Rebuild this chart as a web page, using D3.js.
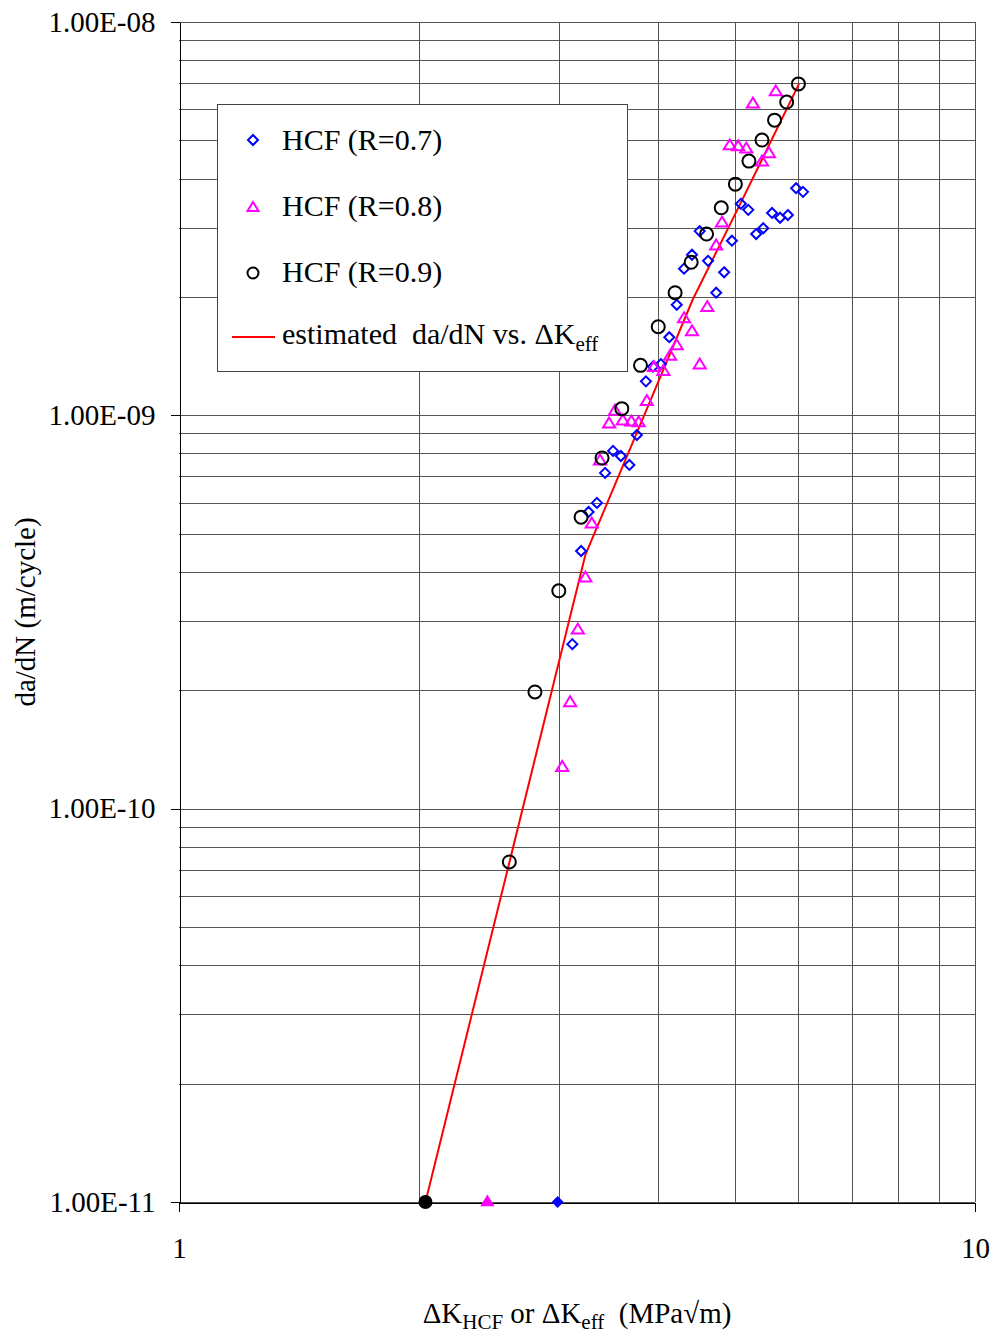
<!DOCTYPE html>
<html>

<head>
    <style>
        body { margin: 0; background: white; }
        text { font-family: "Liberation Serif", "Times New Roman", serif; fill: black; }
        .grid line { stroke: #555; stroke-width: 1; shape-rendering: crispEdges; }
        .axis path, .axis line { stroke: black; shape-rendering: crispEdges; }
    </style>
</head>

<body>
    <svg id="container" width="999" height="1336">
        <g id="body"></g>
    </svg>
</body>
<script src="https://d3js.org/d3.v7.min.js"></script>

<script>
    // HCF R=0.7
    const dk07 = [3.12, 3.20, 3.27, 3.35, 3.43, 3.51, 3.59, 3.68, 3.76, 3.86, 3.94, 4.03, 4.13, 4.22, 4.31,
        4.41, 4.51, 4.62, 4.73, 4.84, 4.95, 5.08, 5.19, 5.31, 5.42, 5.56, 5.69, 5.82, 5.96, 6.08];
    const rate07 = [2.62e-10, 4.52e-10, 5.68e-10, 5.99e-10, 7.14e-10, 8.12e-10, 7.88e-10, 7.48e-10, 8.91e-10, 1.22e-9,
        1.33e-9, 1.35e-9, 1.58e-9, 1.91e-9, 2.36e-9, 2.56e-9, 2.94e-9, 2.47e-9, 2.05e-9, 2.31e-9,
        2.78e-9, 3.45e-9, 3.33e-9, 2.89e-9, 2.99e-9, 3.27e-9, 3.18e-9, 3.23e-9, 3.78e-9, 3.70e-9];

    // HCF R=0.8
    const dk08 = [3.03, 3.10, 3.17, 3.24, 3.30, 3.38, 3.47, 3.53, 3.61, 3.70, 3.78, 3.87, 3.95, 4.06, 4.14,
        4.22, 4.31, 4.41, 4.51, 4.61, 4.73, 4.81, 4.92, 5.04, 5.16, 5.26, 5.40, 5.51, 5.62];
    const rate08 = [1.28e-10, 1.87e-10, 2.86e-10, 3.88e-10, 5.32e-10, 7.70e-10, 9.56e-10, 1.03e-9, 9.73e-10, 9.67e-10,
        9.62e-10, 1.09e-9, 1.33e-9, 1.30e-9, 1.42e-9, 1.51e-9, 1.77e-9, 1.64e-9, 1.35e-9, 1.89e-9,
        2.71e-9, 3.10e-9, 4.87e-9, 4.84e-9, 4.78e-9, 6.22e-9, 4.43e-9, 4.65e-9, 6.68e-9];

    // HCF R=0.9
    const dk09 = [2.6, 2.8, 3.0, 3.2, 3.4, 3.6, 3.8, 4.0, 4.2, 4.4, 4.6, 4.8, 5.0, 5.2, 5.4, 5.6, 5.8, 6.0];
    const rate09 = [7.32e-11, 1.98e-10, 3.58e-10, 5.51e-10, 7.79e-10, 1.04e-9, 1.34e-9, 1.68e-9, 2.05e-9, 2.45e-9,
        2.89e-9, 3.37e-9, 3.87e-9, 4.43e-9, 5.01e-9, 5.63e-9, 6.26e-9, 6.96e-9];

    // threshold points on the bottom axis (R=0.9, 0.8, 0.7)
    const thresholdDK = [2.04, 2.44, 2.99];
    const thresholdRate = 1e-11;

    // estimated da/dN vs dK_eff
    const fitDK = [2.04, 3.24, 3.91, 4.42, 5.10, 6.01];
    const fitRate = [1e-11, 4.42e-10, 1.09e-9, 1.97e-9, 3.53e-9, 6.96e-9];

    const yTicks = [1e-8, 1e-9, 1e-10, 1e-11];
    const xTicks = [1, 10];

    const serif = "'Liberation Serif', 'Times New Roman', serif";
    const body = d3.select("#body");
    const plotLeft = 179, plotRight = 975, plotTop = 22, plotBottom = 1202;

    const x = d3.scaleLog().domain([1, 10]).range([plotLeft, plotRight]);
    const y = d3.scaleLog().domain([1e-11, 1e-8]).range([plotBottom, plotTop]);

    // grid
    let xGrid = [];
    for (let m = 2; m <= 10; m++) xGrid.push(m);
    let yGrid = [];
    for (let e = -11; e <= -9; e++) for (let m = 1; m <= 10; m++) yGrid.push(m * Math.pow(10, e));

    let grid = body.append("g").attr("class", "grid");
    grid.selectAll(".v").data(xGrid).enter().append("line")
        .attr("x1", (d) => Math.round(x(d)) + 0.5).attr("x2", (d) => Math.round(x(d)) + 0.5)
        .attr("y1", plotTop).attr("y2", plotBottom);
    grid.selectAll(".h").data(yGrid).enter().append("line")
        .attr("x1", plotLeft).attr("x2", plotRight)
        .attr("y1", (d) => Math.round(y(d)) + 0.5).attr("y2", (d) => Math.round(y(d)) + 0.5);

    // axes
    body.append("g").attr("class", "axis")
        .attr("transform", `translate(${plotLeft + 0.5}, 0)`)
        .call(d3.axisLeft(y).tickValues(yTicks).tickSize(9).tickSizeOuter(0).tickPadding(15)
            .tickFormat((d) => "1.00E-" + String(-Math.round(Math.log10(d))).padStart(2, "0")))
        .attr("font-family", serif).attr("font-size", 29);
    body.append("g").attr("class", "axis")
        .attr("transform", `translate(0, ${plotBottom + 0.5})`)
        .call(d3.axisBottom(x).tickValues(xTicks).tickSize(9).tickSizeOuter(0).tickPadding(26)
            .tickFormat(d3.format("d")))
        .attr("font-family", serif).attr("font-size", 29);

    // fit line
    let line = d3.line().x((d) => x(d[0])).y((d) => y(d[1]));
    body.append("path")
        .datum(fitDK.map((d, i) => [d, fitRate[i]]))
        .attr("d", line)
        .attr("fill", "none").attr("stroke", "#ff0000").attr("stroke-width", 2);

    // marker shapes
    const diamond = (s) => `M0,${-s}L${s},0L0,${s}L${-s},0Z`;
    const triangle = (s) => `M0,${-s}L${s * 1.1},${s * 0.8}L${-s * 1.1},${s * 0.8}Z`;

    function scatter(dk, rate, shape, color) {
        let g = body.append("g");
        let pts = g.selectAll("g").data(dk.map((d, i) => [d, rate[i]])).enter().append("g")
            .attr("transform", (d) => `translate(${x(d[0])}, ${y(d[1])})`);
        if (shape === "circle") {
            pts.append("circle").attr("r", 6.5);
        } else {
            pts.append("path").attr("d", shape === "diamond" ? diamond(5) : triangle(5.5));
        }
        pts.selectAll("*").attr("fill", "none").attr("stroke", color).attr("stroke-width", 2);
    }

    scatter(dk07, rate07, "diamond", "#0000ff");
    scatter(dk08, rate08, "triangle", "#ff00ff");
    scatter(dk09, rate09, "circle", "black");

    // filled threshold points
    body.append("circle").attr("cx", x(thresholdDK[0])).attr("cy", y(thresholdRate)).attr("r", 7).attr("fill", "black");
    body.append("path").attr("d", triangle(6.5))
        .attr("transform", `translate(${x(thresholdDK[1])}, ${y(thresholdRate) - 1})`).attr("fill", "#ff00ff");
    body.append("path").attr("d", diamond(6))
        .attr("transform", `translate(${x(thresholdDK[2])}, ${y(thresholdRate)})`).attr("fill", "#0000ff");

    // legend
    let legend = body.append("g");
    legend.append("rect")
        .attr("x", 217.5).attr("y", 104.5).attr("width", 410).attr("height", 267)
        .attr("fill", "white").attr("stroke", "#444").attr("stroke-width", 1);
    legend.append("path").attr("d", diamond(5)).attr("transform", "translate(253, 140)")
        .attr("fill", "none").attr("stroke", "#0000ff").attr("stroke-width", 2);
    legend.append("path").attr("d", triangle(5)).attr("transform", "translate(253, 207)")
        .attr("fill", "none").attr("stroke", "#ff00ff").attr("stroke-width", 2);
    legend.append("circle").attr("cx", 253).attr("cy", 273).attr("r", 5.5)
        .attr("fill", "none").attr("stroke", "black").attr("stroke-width", 2);
    legend.append("line").attr("x1", 232).attr("x2", 275).attr("y1", 337).attr("y2", 337)
        .attr("stroke", "#ff0000").attr("stroke-width", 2);
    let labels = ["HCF (R=0.7)", "HCF (R=0.8)", "HCF (R=0.9)"];
    legend.selectAll(".lab").data(labels).enter().append("text")
        .attr("x", 282).attr("y", (d, i) => 150 + i * 66)
        .style("font-size", "30px").text((d) => d);
    let est = legend.append("text").attr("x", 282).attr("y", 344)
        .style("font-size", "30px").style("white-space", "pre");
    est.append("tspan").text("estimated  da/dN vs. \u0394K");
    est.append("tspan").attr("dy", 7).style("font-size", "21px").text("eff");

    // axis titles
    let xt = body.append("text").attr("x", 577).attr("y", 1323)
        .attr("text-anchor", "middle").style("font-size", "29px").style("white-space", "pre");
    xt.append("tspan").text("\u0394K");
    xt.append("tspan").attr("dy", 6).style("font-size", "21px").text("HCF");
    xt.append("tspan").attr("dy", -6).text(" or \u0394K");
    xt.append("tspan").attr("dy", 6).style("font-size", "21px").text("eff");
    xt.append("tspan").attr("dy", -6).text("  (MPa\u221Am)");

    body.append("text")
        .attr("transform", "translate(35, 612) rotate(-90)")
        .attr("text-anchor", "middle").style("font-size", "29px")
        .text("da/dN (m/cycle)");
</script>

</html>
